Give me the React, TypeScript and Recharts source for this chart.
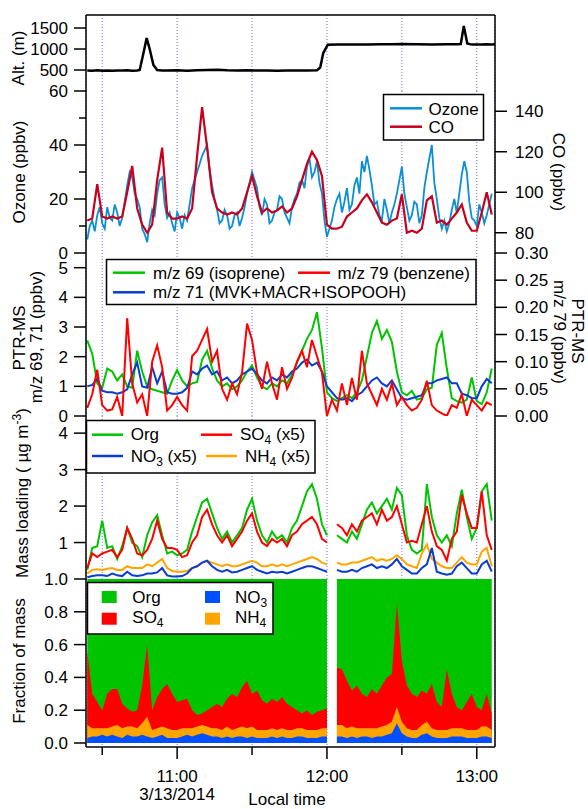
import React from "react";
import {
  ComposedChart,
  Line,
  Area,
  XAxis,
  YAxis,
  CartesianGrid,
  ReferenceLine,
} from "recharts";

const FONT = "'Liberation Sans', Arial, Helvetica, sans-serif";

// sample times: minutes after 10:00 local time, 3/13/2014
const TIMES = [
  24, 26, 28, 30, 32, 34, 36, 38, 40, 42,
  44, 46, 48, 50, 52, 54, 56, 58, 60, 62,
  64, 66, 68, 70, 72, 74, 76, 78, 80, 82,
  84, 86, 88, 90, 92, 94, 96, 98, 100, 102,
  104, 106, 108, 110, 112, 114, 116, 118, 120, 122,
  124, 126, 128, 130, 132, 134, 136, 138, 140, 142,
  144, 146, 148, 150, 152, 154, 156, 158, 160, 162,
  164, 166, 168, 170, 172, 174, 176, 178, 180, 182,
  184, 186,
];

// ozone is noisier, read at one-minute steps
const OZONE_TIMES = [
  24, 25, 26, 27, 28, 29, 30, 31, 32, 33, 34, 35, 36, 37, 38, 39, 40, 41, 42, 43,
  44, 45, 46, 47, 48, 49, 50, 51, 52, 53, 54, 55, 56, 57, 58, 59, 60, 61, 62, 63,
  64, 65, 66, 67, 68, 69, 70, 71, 72, 73, 74, 75, 76, 77, 78, 79, 80, 81, 82, 83,
  84, 85, 86, 87, 88, 89, 90, 91, 92, 93, 94, 95, 96, 97, 98, 99, 100, 101, 102, 103,
  104, 105, 106, 107, 108, 109, 110, 111, 112, 113, 114, 115, 116, 117, 118, 119, 120, 121, 122, 123,
  124, 125, 126, 127, 128, 129, 130, 131, 132, 133, 134, 135, 136, 137, 138, 139, 140, 141, 142, 143,
  144, 145, 146, 147, 148, 149, 150, 151, 152, 153, 154, 155, 156, 157, 158, 159, 160, 161, 162, 163,
  164, 165, 166, 167, 168, 169, 170, 171, 172, 173, 174, 175, 176, 177, 178, 179, 180, 181, 182, 183,
  184, 185, 186,
];
const OZONE = [
  5, 10, 12, 8, 14, 17, 11, 9, 17, 13, 12, 18, 15, 10, 13, 19, 25, 30, 28, 22,
  20, 17, 9, 7, 4, 11, 16, 14, 22, 27, 28, 18, 13, 15, 11, 8, 15, 13, 9, 14,
  12, 18, 24, 27, 30, 33, 36, 38, 40, 31, 25, 20, 16, 11, 12, 16, 14, 9, 10, 14,
  15, 10, 13, 17, 22, 26, 30, 27, 24, 17, 14, 20, 18, 11, 12, 15, 16, 21, 20, 15,
  13, 11, 17, 20, 22, 26, 27, 24, 32, 35, 28, 30, 34, 26, 22, 12, 6, 9, 12, 17,
  20, 22, 15, 19, 24, 16, 18, 25, 28, 22, 34, 30, 36, 31, 25, 18, 19, 14, 12, 20,
  16, 11, 15, 18, 22, 27, 32, 22, 17, 12, 14, 19, 18, 11, 14, 24, 30, 35, 40, 26,
  20, 13, 9, 12, 8, 11, 16, 20, 15, 22, 29, 34, 30, 19, 13, 12, 10, 18, 15, 11,
  14, 18, 22,
];

const ALT_TIMES = [
  24, 26, 28, 30, 32, 34, 36, 38, 40, 42,
  44, 45, 46.5, 47.8, 49, 50.5, 52, 54, 56, 60,
  64, 68, 72, 76, 80, 84, 88, 92, 96, 100,
  104, 108, 112, 116, 117.3, 118.5, 120.3, 124, 130, 136,
  142, 146, 150, 156, 162, 168, 172, 173.6, 174.8, 176.2,
  178, 180, 182, 184, 186, 187.3,
];
const ALT_M = [
  490, 485, 495, 485, 490, 482, 490, 488, 492, 485,
  490, 500, 900, 1260, 1000, 620, 500, 490, 488, 492,
  485, 495, 500, 505, 492, 490, 495, 488, 490, 485,
  490, 488, 490, 492, 560, 900, 1100, 1105, 1110, 1108,
  1115, 1112, 1118, 1112, 1110, 1115, 1112, 1120, 1550, 1130,
  1105, 1110, 1108, 1115, 1110, 1112,
];

const CO = [
  86, 87, 104, 88, 87, 88, 87, 88, 100, 113,
  92, 84, 80, 84, 106, 122, 90, 87, 87, 88,
  87, 92, 118, 142, 122, 100, 92, 90, 89, 90,
  89, 92, 100, 108, 98, 90, 92, 90, 91, 93,
  90, 92, 98, 106, 114, 120, 116, 108, 84, 82,
  82, 83, 88, 90, 92, 96, 99, 95, 90, 85,
  84, 86, 87, 99, 80, 81, 80, 82, 96, 98,
  85, 86, 84, 87, 90, 94, 85, 81, 81, 90,
  100, 89,
];

const M69 = [
  2.55, 2.1, 1.1, 0.95, 1.6, 1.5, 1.2, 1.4, 1.0, 0.95,
  2.2, 1.5, 1.0, 0.9, 0.85, 0.8, 0.75, 1.2, 1.55, 1.2,
  1.0, 1.1, 1.15, 1.9, 2.2, 1.6, 1.2, 1.0, 1.1, 0.9,
  1.0, 1.2, 1.5, 1.7, 1.3, 1.0, 0.9, 1.1, 1.0, 1.2,
  1.1, 1.4, 1.8, 2.2, 2.6, 2.9, 3.5, 2.3, 0.8, 0.6,
  0.5, 0.6, 0.7, 0.6, 0.8, 1.2, 2.0, 2.8, 3.2, 2.6,
  2.9, 2.5, 1.5, 0.8, 0.7, 0.85, 0.55, 0.6, 0.9, 0.95,
  2.4, 2.8, 1.6, 0.6, 0.5, 0.45, 0.55, 1.3, 0.5, 0.4,
  0.8, 1.6,
];
const M71 = [
  1.0, 1.05, 1.25, 0.85, 0.8, 0.8, 0.75, 0.8, 0.9, 1.4,
  1.8, 1.0, 0.95, 1.65, 1.1, 1.5, 0.8, 0.75, 0.75, 0.8,
  0.95, 1.5, 1.4, 1.6, 1.7, 1.4, 1.5, 1.2, 1.3, 1.1,
  1.2, 1.4, 1.5, 1.6, 1.4, 1.2, 1.1, 1.3, 1.2, 1.4,
  1.3, 1.5, 1.6, 1.8, 1.9, 1.7, 1.8, 1.5, 1.0, 0.8,
  0.6, 0.55, 0.6, 0.5, 0.7, 0.8, 1.0, 1.2, 1.3, 1.1,
  1.0, 1.2, 0.9, 0.6, 0.55, 0.6, 0.65, 0.7, 1.1, 1.1,
  1.2, 1.25, 1.3, 1.1, 1.1, 0.75, 0.7, 0.6, 0.6, 1.0,
  1.25, 1.1,
];
const M79 = [
  0.015, 0.04, 0.085, 0.02, 0.01, 0.012, 0.035, 0.0, 0.18, 0.06,
  0.025, 0.04, 0.0, 0.1, 0.13, 0.09, 0.01, 0.02, 0.035, 0.02,
  0.01, 0.11, 0.12, 0.14, 0.16, 0.1, 0.12, 0.05, 0.03, 0.06,
  0.04, 0.08, 0.17, 0.14, 0.08, 0.05, 0.1, 0.06, 0.03, 0.09,
  0.05, 0.07, 0.1, 0.12, 0.09, 0.14, 0.11, 0.08, 0.0, 0.03,
  0.01, 0.06, 0.02, 0.07, 0.03, 0.12, 0.06, 0.04, 0.02, 0.05,
  0.03, 0.06, 0.02, 0.035, 0.02, 0.01, 0.015, 0.03, 0.065, 0.02,
  0.01, 0.005, 0.0, 0.02, 0.015, 0.04, 0.0, 0.03, 0.02, 0.01,
  0.025, 0.02,
];

// AMS mass loadings (inorganics shown x5); gap near 12:02
const ORG = [
  0.25, 0.85, 0.9, 1.6, 0.85, 0.9, 0.55, 0.9, 1.4, 1.0,
  0.9, 0.6, 1.2, 1.55, 1.75, 1.2, 0.7, 0.75, 0.65, 0.7,
  0.8, 1.3, 1.7, 2.1, 2.2, 1.8, 1.4, 1.1, 1.3, 1.0,
  1.2, 1.4, 1.9, 2.2, 1.6, 1.2, 1.0, 1.3, 1.1, 1.2,
  1.0, 1.4, 1.6, 2.0, 2.4, 2.6, 2.2, 1.5, 1.2, null,
  1.2, 1.1, 1.0, 1.3, 1.1, 1.5, 1.9, 2.1, 1.8, 2.0,
  2.2, 1.9, 2.5, 2.3, 1.2, 0.8, 0.7, 0.8, 2.6, 1.7,
  1.2, 1.0, 1.2, 0.9, 1.8, 2.45, 1.7, 1.1, 1.4, 2.4,
  2.6, 1.6,
];
const SO4_X5 = [
  0.3, 0.7, 0.6, 0.7, 0.75, 0.8, 0.6, 0.8, 1.4, 1.1,
  0.7, 0.65, 0.8, 1.1, 1.6, 1.1, 0.85, 0.85, 0.8, 0.6,
  0.65, 1.0, 1.2, 1.7, 1.9, 1.5, 1.2, 1.0, 1.2, 0.9,
  1.1, 1.3, 1.6, 1.8, 1.3, 1.0, 0.9, 1.1, 1.0, 1.1,
  0.9, 1.2, 1.3, 1.5, 1.6, 1.7, 1.5, 1.1, 1.0, null,
  1.5, 1.4, 1.2, 1.5, 1.3, 1.6, 1.7, 1.8, 1.5, 1.9,
  1.6, 1.7, 2.0, 1.5, 1.0, 1.05, 1.0, 1.5, 2.0, 1.3,
  0.9, 0.8, 0.5, 1.1, 1.3, 2.3, 1.8, 1.4, 1.4, 2.4,
  1.2, 0.8,
];
const NO3_X5 = [
  0.05, 0.08, 0.1, 0.1, 0.08, 0.15, 0.1, 0.08, 0.2, 0.1,
  0.08, 0.1, 0.15, 0.15, 0.18, 0.3, 0.1, 0.07, 0.07, 0.08,
  0.15, 0.3, 0.35, 0.45, 0.5, 0.35, 0.25, 0.2, 0.25, 0.18,
  0.2, 0.25, 0.3, 0.35, 0.25, 0.2, 0.15, 0.2, 0.18, 0.2,
  0.15, 0.2, 0.25, 0.3, 0.35, 0.35, 0.3, 0.25, 0.2, null,
  0.25, 0.2, 0.2, 0.25, 0.2, 0.3, 0.35, 0.4, 0.3, 0.35,
  0.3, 0.4, 0.55, 0.35, 0.25, 0.15, 0.15, 0.3, 0.4, 0.85,
  0.2, 0.15, 0.12, 0.15, 0.35, 0.45, 0.3, 0.15, 0.15, 0.4,
  0.5, 0.2,
];
const NH4_X5 = [
  0.15, 0.25, 0.27, 0.25, 0.28, 0.3, 0.25, 0.25, 0.35, 0.3,
  0.3, 0.3, 0.4, 0.35, 0.45, 0.55, 0.3, 0.22, 0.2, 0.2,
  0.22, 0.3, 0.35, 0.45, 0.5, 0.45, 0.4, 0.35, 0.4, 0.35,
  0.35, 0.4, 0.45, 0.5, 0.45, 0.35, 0.35, 0.4, 0.35, 0.4,
  0.35, 0.4, 0.45, 0.5, 0.55, 0.6, 0.55, 0.45, 0.4, null,
  0.45, 0.4, 0.4, 0.45, 0.45, 0.5, 0.55, 0.6, 0.5, 0.55,
  0.5, 0.55, 0.65, 0.55, 0.4, 0.35, 0.3, 0.7, 0.95, 0.55,
  0.45, 0.35, 0.3, 0.3, 0.45, 0.6, 0.45, 0.4, 0.4, 0.75,
  0.85, 0.35,
];

// fractions of total mass (Org is the remainder)
const FRAC_NO3 = [
  0.03, 0.04, 0.04, 0.05, 0.04, 0.05, 0.04, 0.03, 0.05, 0.04,
  0.04, 0.05, 0.04, 0.03, 0.04, 0.05, 0.03, 0.03, 0.03, 0.04,
  0.05, 0.04, 0.05, 0.06, 0.05, 0.04, 0.04, 0.03, 0.04, 0.03,
  0.04, 0.04, 0.03, 0.04, 0.03, 0.03, 0.03, 0.04, 0.03, 0.04,
  0.03, 0.03, 0.04, 0.04, 0.03, 0.03, 0.03, 0.04, 0.04, null,
  0.04, 0.04, 0.03, 0.04, 0.03, 0.04, 0.04, 0.03, 0.04, 0.04,
  0.05, 0.06, 0.12, 0.06, 0.04, 0.03, 0.03, 0.05, 0.06, 0.04,
  0.03, 0.03, 0.03, 0.04, 0.04, 0.04, 0.03, 0.03, 0.03, 0.04,
  0.04, 0.03,
];
const FRAC_NH4 = [
  0.08, 0.05, 0.05, 0.04, 0.05, 0.05, 0.07, 0.06, 0.05, 0.06,
  0.05, 0.07, 0.12, 0.05, 0.05, 0.05, 0.06, 0.05, 0.05, 0.05,
  0.04, 0.05, 0.05, 0.05, 0.05, 0.05, 0.05, 0.05, 0.06, 0.05,
  0.05, 0.06, 0.06, 0.06, 0.05, 0.05, 0.05, 0.05, 0.05, 0.05,
  0.05, 0.05, 0.05, 0.05, 0.05, 0.05, 0.05, 0.05, 0.05, null,
  0.07, 0.07, 0.06, 0.06, 0.06, 0.05, 0.05, 0.06, 0.05, 0.06,
  0.06, 0.07, 0.1, 0.07, 0.05, 0.05, 0.05, 0.06, 0.07, 0.05,
  0.05, 0.05, 0.05, 0.05, 0.05, 0.05, 0.05, 0.05, 0.05, 0.06,
  0.06, 0.05,
];
const FRAC_SO4 = [
  0.45, 0.21, 0.16, 0.11, 0.21, 0.23, 0.22, 0.15, 0.11, 0.09,
  0.11, 0.23, 0.44, 0.12, 0.19, 0.23, 0.27, 0.22, 0.17, 0.17,
  0.18, 0.11, 0.07, 0.07, 0.1, 0.13, 0.15, 0.14, 0.17, 0.22,
  0.19, 0.24, 0.29, 0.2, 0.24, 0.18, 0.16, 0.18, 0.17, 0.19,
  0.16, 0.14, 0.11, 0.09, 0.12, 0.09, 0.11, 0.11, 0.12, null,
  0.35, 0.34, 0.29, 0.22, 0.26, 0.21, 0.19, 0.24, 0.21, 0.25,
  0.29, 0.29, 0.63, 0.37, 0.26, 0.22, 0.2, 0.21, 0.17, 0.27,
  0.17, 0.14, 0.37, 0.21, 0.13, 0.11, 0.17, 0.22, 0.14, 0.1,
  0.2, 0.1,
];

const GRID_TIMES = [30, 60, 90, 120, 150, 180];
const TIME_LABELS: Record<number, string> = { 60: "11:00", 120: "12:00", 180: "13:00" };
const DATE_LABEL = "3/13/2014";
const X_DOMAIN = [23.5, 187.3];

// layout
const W = 588;
const PLOT_LEFT = 86;
const PLOT_RIGHT = 495;
const MARGIN = { top: 12, bottom: 12, left: PLOT_LEFT - 60, right: W - PLOT_RIGHT - 70 };
const AXIS = { stroke: "#000", strokeWidth: 1.5 };
const GRID = "#6e6eff";

const C = {
  ozone: "#0b8fd4",
  co: "#c8001e",
  green: "#00c400",
  red: "#ff0000",
  blue: "#0a3ccf",
  orange: "#ffa500",
  fracBlue: "#0050ff",
};

const altData = ALT_TIMES.map((t, i) => ({ t, alt: ALT_M[i] }));
const coByTime = new Map(TIMES.map((t, i) => [t, CO[i]]));
const gasData = OZONE_TIMES.map((t, i) => ({ t, ozone: OZONE[i], co: coByTime.get(t) ?? null }));
const ptrData = TIMES.map((t, i) => ({ t, m69: M69[i], m71: M71[i], m79: M79[i] }));
const massData = TIMES.map((t, i) => ({
  t,
  org: ORG[i],
  so4: SO4_X5[i],
  no3: NO3_X5[i],
  nh4: NH4_X5[i],
}));
const fracData = TIMES.map((t, i) => {
  const n = FRAC_NO3[i];
  const h = FRAC_NH4[i];
  const s = FRAC_SO4[i];
  if (n == null || h == null || s == null) {
    return { t, no3: null, nh4: null, so4: null, org: null };
  }
  // cumulative tops of the stacked layers
  return { t, no3: n, nh4: n + h, so4: n + h + s, org: 1 };
});

const makeLeftTick = (fmt: (v: number) => string, minor: number[] = []) =>
  function LeftTick(props: any) {
    const { y, payload } = props;
    const v = payload.value;
    const isMinor = minor.includes(v);
    return (
      <g>
        <line x1={PLOT_LEFT - (isMinor ? 7 : 12)} x2={PLOT_LEFT} y1={y} y2={y} stroke="#000" strokeWidth={1.5} />
        {!isMinor && (
          <text x={PLOT_LEFT - 18} y={y} dy={6} textAnchor="end" fontFamily={FONT} fontSize={17} fill="#000">
            {fmt(v)}
          </text>
        )}
      </g>
    );
  };

const makeRightTick = (fmt: (v: number) => string) =>
  function RightTick(props: any) {
    const { y, payload } = props;
    return (
      <g>
        <line x1={PLOT_RIGHT} x2={PLOT_RIGHT + 12} y1={y} y2={y} stroke="#000" strokeWidth={1.5} />
        <text x={PLOT_RIGHT + 20} y={y} dy={6} textAnchor="start" fontFamily={FONT} fontSize={17} fill="#000">
          {fmt(payload.value)}
        </text>
      </g>
    );
  };

const P5_AXIS_Y = 12 + 168;

function TimeTick(props: any) {
  const { x, payload } = props;
  const v = payload.value;
  const label = TIME_LABELS[v];
  return (
    <g>
      <line x1={x} x2={x} y1={P5_AXIS_Y} y2={P5_AXIS_Y + (label ? 12 : 8)} stroke="#000" strokeWidth={1.5} />
      {label && (
        <text x={x} y={P5_AXIS_Y + 35} textAnchor="middle" fontFamily={FONT} fontSize={17} fill="#000">
          {label}
        </text>
      )}
      {v === 60 && (
        <text x={x} y={P5_AXIS_Y + 53} textAnchor="middle" fontFamily={FONT} fontSize={17} fill="#000">
          {DATE_LABEL}
        </text>
      )}
    </g>
  );
}

const EmptyTick = () => <g />;

const int = (v: number) => String(v);

const hiddenX = (
  <XAxis
    dataKey="t"
    type="number"
    domain={X_DOMAIN}
    ticks={GRID_TIMES}
    interval={0}
    allowDataOverflow
    tick={EmptyTick}
    tickLine={false}
    height={0}
    axisLine={AXIS}
  />
);

const grid = (
  <CartesianGrid yAxisId="l" horizontal={false} stroke={GRID} strokeDasharray="1 2" strokeWidth={1} />
);

const plainRight = (
  <YAxis yAxisId="r" orientation="right" domain={[0, 1]} width={70} tick={false} tickLine={false} axisLine={AXIS} />
);

export default function App() {
  return (
    <div
      style={{
        position: "absolute",
        left: 0,
        top: 0,
        width: W,
        height: 809,
        background: "#fff",
        fontFamily: FONT,
      }}
    >
      {/* altitude */}
      <div style={{ position: "absolute", left: 0, top: 3 }}>
        <ComposedChart width={W} height={100} data={altData} margin={MARGIN}>
          {grid}
          {hiddenX}
          <YAxis
            yAxisId="l"
            domain={[0, 1810]}
            ticks={[500, 1000, 1500]}
            interval={0}
            allowDataOverflow
            width={60}
            tickLine={false}
            tick={makeLeftTick(int)}
            axisLine={AXIS}
          />
          {plainRight}
          <ReferenceLine yAxisId="l" y={1810} stroke="#000" strokeWidth={1.5} />
          <Line yAxisId="l" dataKey="alt" stroke="#000" strokeWidth={2.5} dot={false} isAnimationActive={false} />
        </ComposedChart>
      </div>

      {/* ozone and CO */}
      <div style={{ position: "absolute", left: 0, top: 79 }}>
        <ComposedChart width={W} height={186} data={gasData} margin={MARGIN}>
          {grid}
          {hiddenX}
          <YAxis
            yAxisId="l"
            domain={[0, 60]}
            ticks={[0, 10, 20, 30, 40, 50, 60]}
            interval={0}
            allowDataOverflow
            width={60}
            tickLine={false}
            tick={makeLeftTick(int, [10, 30, 50])}
            axisLine={AXIS}
          />
          <YAxis
            yAxisId="r"
            orientation="right"
            domain={[70, 150]}
            ticks={[80, 100, 120, 140]}
            interval={0}
            allowDataOverflow
            width={70}
            tickLine={false}
            tick={makeRightTick(int)}
            axisLine={AXIS}
          />
          <Line yAxisId="l" dataKey="ozone" stroke={C.ozone} strokeWidth={1.8} dot={false} isAnimationActive={false} />
          <Line yAxisId="r" dataKey="co" stroke={C.co} strokeWidth={2.2} dot={false} connectNulls isAnimationActive={false} />
        </ComposedChart>
      </div>

      {/* PTR-MS */}
      <div style={{ position: "absolute", left: 0, top: 241 }}>
        <ComposedChart width={W} height={187} data={ptrData} margin={MARGIN}>
          {grid}
          {hiddenX}
          <YAxis
            yAxisId="l"
            domain={[0, 5.495]}
            ticks={[0, 1, 2, 3, 4, 5]}
            interval={0}
            allowDataOverflow
            width={60}
            tickLine={false}
            tick={makeLeftTick(int)}
            axisLine={AXIS}
          />
          <YAxis
            yAxisId="r"
            orientation="right"
            domain={[0, 0.3]}
            ticks={[0, 0.05, 0.1, 0.15, 0.2, 0.25, 0.3]}
            interval={0}
            allowDataOverflow
            width={70}
            tickLine={false}
            tick={makeRightTick((v) => v.toFixed(2))}
            axisLine={AXIS}
          />
          <Line yAxisId="l" dataKey="m69" stroke={C.green} strokeWidth={2} dot={false} isAnimationActive={false} />
          <Line yAxisId="l" dataKey="m71" stroke={C.blue} strokeWidth={2} dot={false} isAnimationActive={false} />
          <Line yAxisId="r" dataKey="m79" stroke={C.red} strokeWidth={2} dot={false} isAnimationActive={false} />
        </ComposedChart>
      </div>

      {/* mass loading */}
      <div style={{ position: "absolute", left: 0, top: 404 }}>
        <ComposedChart width={W} height={187} data={massData} margin={MARGIN}>
          {grid}
          {hiddenX}
          <YAxis
            yAxisId="l"
            domain={[0, 4.47]}
            ticks={[1, 2, 3, 4]}
            interval={0}
            allowDataOverflow
            width={60}
            tickLine={false}
            tick={makeLeftTick(int)}
            axisLine={AXIS}
          />
          {plainRight}
          <Line yAxisId="l" dataKey="org" stroke={C.green} strokeWidth={2} dot={false} isAnimationActive={false} />
          <Line yAxisId="l" dataKey="so4" stroke={C.red} strokeWidth={2} dot={false} isAnimationActive={false} />
          <Line yAxisId="l" dataKey="nh4" stroke={C.orange} strokeWidth={2} dot={false} isAnimationActive={false} />
          <Line yAxisId="l" dataKey="no3" stroke={C.blue} strokeWidth={2} dot={false} isAnimationActive={false} />
        </ComposedChart>
      </div>

      {/* fraction of mass */}
      <div style={{ position: "absolute", left: 0, top: 567 }}>
        <ComposedChart width={W} height={242} data={fracData} margin={{ ...MARGIN, bottom: 0 }}>
          {grid}
          <XAxis
            dataKey="t"
            type="number"
            domain={X_DOMAIN}
            ticks={GRID_TIMES}
            interval={0}
            allowDataOverflow
            height={62}
            tickLine={false}
            tick={TimeTick}
            axisLine={AXIS}
          />
          <YAxis
            yAxisId="l"
            domain={[-0.0244, 1]}
            ticks={[0, 0.2, 0.4, 0.6, 0.8, 1]}
            interval={0}
            allowDataOverflow
            width={60}
            tickLine={false}
            tick={makeLeftTick((v) => v.toFixed(1))}
            axisLine={AXIS}
          />
          {plainRight}
          <Area yAxisId="l" type="linear" dataKey="org" baseValue={0} stroke="none" fill={C.green} fillOpacity={1} isAnimationActive={false} />
          <Area yAxisId="l" type="linear" dataKey="so4" baseValue={0} stroke="none" fill={C.red} fillOpacity={1} isAnimationActive={false} />
          <Area yAxisId="l" type="linear" dataKey="nh4" baseValue={0} stroke="none" fill={C.orange} fillOpacity={1} isAnimationActive={false} />
          <Area yAxisId="l" type="linear" dataKey="no3" baseValue={0} stroke="none" fill={C.fracBlue} fillOpacity={1} isAnimationActive={false} />
        </ComposedChart>
      </div>

      {/* titles and legends */}
      <svg
        width={W}
        height={809}
        style={{ position: "absolute", left: 0, top: 0, pointerEvents: "none" }}
        fontFamily={FONT}
        fontSize={17}
        fill="#000"
      >
        <text transform="translate(24,58) rotate(-90)" textAnchor="middle">Alt. (m)</text>
        <text transform="translate(25,172) rotate(-90)" textAnchor="middle">Ozone (ppbv)</text>
        <text transform="translate(25,338) rotate(-90)" textAnchor="middle">PTR-MS</text>
        <text transform="translate(42,337) rotate(-90)" textAnchor="middle">m/z 69, 71 (ppbv)</text>
        <text transform="translate(28,493) rotate(-90)" textAnchor="middle">
          Mass loading ( µg m<tspan dy={-7} fontSize={12}>-3</tspan>
          <tspan dy={7}>)</tspan>
        </text>
        <text transform="translate(25,661) rotate(-90)" textAnchor="middle">Fraction of mass</text>
        <text transform="translate(553,172) rotate(90)" textAnchor="middle">CO (ppbv)</text>
        <text transform="translate(554,332) rotate(90)" textAnchor="middle">m/z 79 (ppbv)</text>
        <text transform="translate(572,331) rotate(90)" textAnchor="middle">PTR-MS</text>
        <text x={287} y={805} textAnchor="middle">Local time</text>

        {/* ozone / CO legend */}
        <rect x={383.5} y={94.5} width={100} height={45.5} fill="#fff" stroke="#000" strokeWidth={1.5} />
        <line x1={390} x2={422} y1={108.3} y2={108.3} stroke={C.ozone} strokeWidth={2.5} />
        <text x={428.5} y={114.5}>Ozone</text>
        <line x1={390} x2={422} y1={126.7} y2={126.7} stroke={C.co} strokeWidth={2.5} />
        <text x={428.5} y={133}>CO</text>

        {/* PTR legend */}
        <rect x={106.5} y={259.5} width={369.5} height={45} fill="#fff" stroke="#000" strokeWidth={1.5} />
        <line x1={113} x2={145} y1={272.7} y2={272.7} stroke={C.green} strokeWidth={2.5} />
        <text x={153} y={278.5}>m/z 69 (isoprene)</text>
        <line x1={298} x2={330} y1={272.7} y2={272.7} stroke={C.red} strokeWidth={2.5} />
        <text x={337.5} y={278.5}>m/z 79 (benzene)</text>
        <line x1={113} x2={145} y1={292.3} y2={292.3} stroke={C.blue} strokeWidth={2.5} />
        <text x={153} y={297.5}>m/z 71 (MVK+MACR+ISOPOOH)</text>

        {/* mass loading legend */}
        <rect x={86.5} y={420.5} width={228.5} height={52.5} fill="#fff" stroke="#000" strokeWidth={1.5} />
        <line x1={92} x2={123} y1={434.7} y2={434.7} stroke={C.green} strokeWidth={2.5} />
        <text x={130.7} y={440}>Org</text>
        <line x1={201} x2={232} y1={434.7} y2={434.7} stroke={C.red} strokeWidth={2.5} />
        <text x={240} y={440}>
          SO<tspan dy={4} fontSize={12}>4</tspan>
          <tspan dy={-4}>{"\u00a0(x5)"}</tspan>
        </text>
        <line x1={92} x2={123} y1={456} y2={456} stroke={C.blue} strokeWidth={2.5} />
        <text x={130.7} y={461.5}>
          NO<tspan dy={4} fontSize={12}>3</tspan>
          <tspan dy={-4}>{"\u00a0(x5)"}</tspan>
        </text>
        <line x1={206} x2={237} y1={456} y2={456} stroke={C.orange} strokeWidth={2.5} />
        <text x={245} y={461.5}>
          NH<tspan dy={4} fontSize={12}>4</tspan>
          <tspan dy={-4}>{"\u00a0(x5)"}</tspan>
        </text>

        {/* fraction legend */}
        <rect x={87.5} y={582.5} width={185.5} height={51.5} fill="#fff" stroke="#000" strokeWidth={1.5} />
        <rect x={101.7} y={591} width={15} height={12} fill={C.green} />
        <text x={132.3} y={602.7}>Org</text>
        <rect x={101.7} y={612.7} width={15} height={12} fill={C.red} />
        <text x={132.3} y={623}>
          SO<tspan dy={4} fontSize={12}>4</tspan>
        </text>
        <rect x={205} y={591} width={15} height={12} fill={C.fracBlue} />
        <text x={235} y={602.7}>
          NO<tspan dy={4} fontSize={12}>3</tspan>
        </text>
        <rect x={205} y={612.7} width={15} height={12} fill={C.orange} />
        <text x={235} y={623}>
          NH<tspan dy={4} fontSize={12}>4</tspan>
        </text>
      </svg>
    </div>
  );
}
